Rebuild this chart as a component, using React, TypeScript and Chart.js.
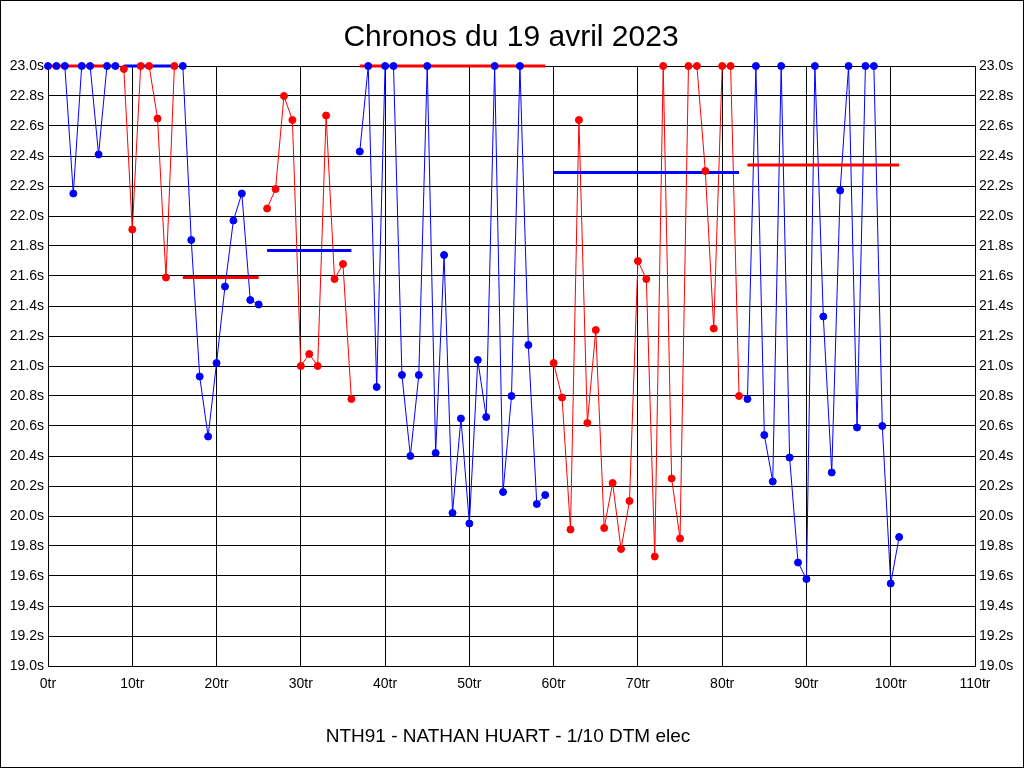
import React, { useEffect, useRef } from 'react';
import { Chart, registerables } from 'chart.js';

Chart.register(...registerables);

const titleText = 'Chronos du 19 avril 2023';
const footerText = 'NTH91 - NATHAN HUART - 1/10 DTM elec';

// lap times (s), lap 0..101 (values at 23.0 are clipped at the top of the chart)
const lapTimes = [
  23.0, 23.0, 23.0, 22.15, 23.0, 23.0, 22.41, 23.0, 23.0,
  22.98, 21.91, 23.0, 23.0, 22.65, 21.59, 23.0,
  23.0, 21.84, 20.93, 20.53, 21.02, 21.53, 21.97, 22.15, 21.44, 21.41,
  22.05, 22.18, 22.80, 22.64, 21.0, 21.08, 21.0, 22.67, 21.58, 21.68, 20.78,
  22.43, 23.0, 20.86, 23.0, 23.0, 20.94, 20.40, 20.94, 23.0, 20.42, 21.74, 20.02,
  20.65, 19.95, 21.04, 20.66, 23.0, 20.16, 20.80, 23.0, 21.14, 20.08, 20.14,
  21.02, 20.79, 19.91, 22.64, 20.62, 21.24, 19.92, 20.22, 19.78, 20.10, 21.70,
  21.58, 19.73, 23.0, 20.25, 19.85, 23.0, 23.0, 22.30, 21.25, 23.0, 23.0, 20.80,
  20.78, 23.0, 20.54, 20.23, 23.0, 20.39, 19.69, 19.58, 23.0, 21.33, 20.29,
  22.17, 23.0, 20.59, 23.0, 23.0, 20.60, 19.55, 19.86,
];

// runs (first lap / last lap of each battery run)
const runStarts = [0, 9, 16, 26, 37, 60, 83];
const runEnds = [8, 15, 25, 36, 59, 82, 101];
const runColors = ['#0000FF', '#FF0000', '#0000FF', '#FF0000', '#0000FF', '#FF0000', '#0000FF'];

// mean time of each run (clipped at 23.0), drawn in the opposite colour
const runMeans = [23.0, 23.0, 21.59, 21.77, 23.0, 22.29, 22.34];
const meanColors = ['#FF0000', '#0000FF', '#FF0000', '#0000FF', '#FF0000', '#0000FF', '#FF0000'];

const xMin = 0;
const xMax = 110;
const xStep = 10;
const xSuffix = 'tr';
const yMin = 19.0;
const yMax = 23.0;
const yStep = 0.2;
const ySuffix = 's';

const FONT = '"Liberation Sans", Arial, sans-serif';

export default function App() {
  const ref = useRef<HTMLCanvasElement | null>(null);

  useEffect(() => {
    if (!ref.current) return;
    document.body.style.margin = '0';

    const lineSets: any[] = [];
    const pointSets: any[] = [];
    const meanSets: any[] = [];

    runStarts.forEach((s, i) => {
      const e = runEnds[i];
      const pts = [];
      for (let k = s; k <= e; k++) pts.push({ x: k, y: lapTimes[k] });
      lineSets.push({
        data: pts,
        borderColor: runColors[i],
        borderWidth: 1,
        pointRadius: 0,
        showLine: true,
        clip: false,
        order: 3,
      });
      pointSets.push({
        data: pts,
        borderColor: runColors[i],
        backgroundColor: runColors[i],
        showLine: false,
        pointRadius: 3.5,
        pointBorderWidth: 1,
        clip: false,
        order: 1,
      });
      meanSets.push({
        data: [
          { x: s, y: runMeans[i] },
          { x: e, y: runMeans[i] },
        ],
        borderColor: meanColors[i],
        borderWidth: 3,
        pointRadius: 0,
        showLine: true,
        clip: false,
        order: 2,
      });
    });

    const textPlugin = {
      id: 'textPlugin',
      beforeDraw(chart: any) {
        const ctx = chart.ctx;
        ctx.save();
        ctx.fillStyle = '#FFFFFF';
        ctx.fillRect(0, 0, chart.width, chart.height);
        ctx.restore();
      },
      afterDraw(chart: any) {
        const ctx = chart.ctx;
        ctx.save();
        ctx.fillStyle = '#000000';
        ctx.textAlign = 'center';
        ctx.textBaseline = 'alphabetic';
        ctx.font = `30px ${FONT}`;
        ctx.fillText(titleText, 511, 46);
        ctx.font = `19px ${FONT}`;
        ctx.fillText(footerText, 508, 742);
        ctx.strokeStyle = '#000000';
        ctx.lineWidth = 1;
        ctx.strokeRect(0.5, 0.5, chart.width - 1, chart.height - 1);
        ctx.restore();
      },
    };

    const yTicks = {
      stepSize: yStep,
      autoSkip: false,
      color: '#000',
      padding: 4,
      font: { family: FONT, size: 14 },
      callback: (v: any) => Number(v).toFixed(1) + ySuffix,
    };

    const chart = new Chart(ref.current, {
      type: 'line',
      data: { datasets: [...pointSets, ...meanSets, ...lineSets] },
      options: {
        animation: false,
        responsive: false,
        devicePixelRatio: 1,
        events: [],
        layout: { padding: { left: 0, right: 0, top: 66, bottom: 72 } },
        plugins: {
          legend: { display: false },
          tooltip: { enabled: false },
          title: { display: false },
        },
        scales: {
          x: {
            type: 'linear',
            min: xMin,
            max: xMax,
            afterFit: (s: any) => {
              s.height = 30;
            },
            grid: { color: '#000', lineWidth: 1, drawTicks: false },
            border: { display: true, color: '#000', width: 1 },
            ticks: {
              stepSize: xStep,
              autoSkip: false,
              maxRotation: 0,
              color: '#000',
              padding: 10,
              font: { family: FONT, size: 14 },
              callback: (v: any) => `${v}${xSuffix}`,
            },
          },
          y: {
            type: 'linear',
            position: 'left',
            min: yMin,
            max: yMax,
            afterFit: (s: any) => {
              s.width = 48;
            },
            grid: { color: '#000', lineWidth: 1, drawTicks: false },
            border: { display: true, color: '#000', width: 1 },
            ticks: yTicks,
          },
          y2: {
            type: 'linear',
            position: 'right',
            min: yMin,
            max: yMax,
            afterFit: (s: any) => {
              s.width = 49;
            },
            grid: { display: false, drawTicks: false },
            border: { display: true, color: '#000', width: 1 },
            ticks: yTicks,
          },
        },
      } as any,
      plugins: [textPlugin],
    });

    return () => chart.destroy();
  }, []);

  return (
    <div style={{ position: 'absolute', left: 0, top: 0, width: 1024, height: 768 }}>
      <canvas ref={ref} width={1024} height={768} style={{ width: 1024, height: 768, display: 'block' }} />
    </div>
  );
}
